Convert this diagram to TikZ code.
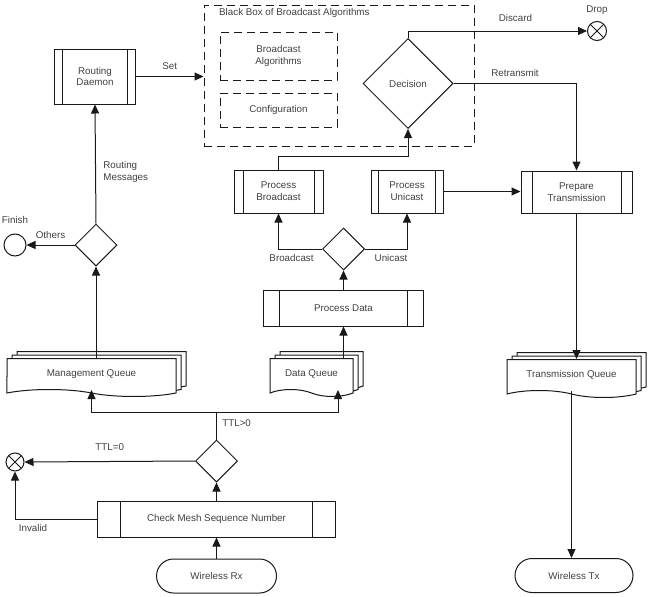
\documentclass[tikz,border=0pt]{standalone}
\usepackage{fontspec}
\setmainfont{Liberation Sans}
\usetikzlibrary{arrows.meta, shapes.geometric, shapes.symbols, shadows}

\begin{document}
\begin{tikzpicture}[x=1pt, y=-1pt,
    every node/.style={font=\fontsize{9.8}{11.8}\selectfont, text=black!75},
    line/.style={draw=black!90, line width=1pt},
    arrow/.style={line, -{Triangle[length=9pt, width=8pt]}},
    procbox/.style={line, fill=white, align=center, inner sep=0pt,
      path picture={\draw[line] ([xshift=#1]path picture bounding box.north west) -- ([xshift=#1]path picture bounding box.south west)
        ([xshift=-#1]path picture bounding box.north east) -- ([xshift=-#1]path picture bounding box.south east);}},
    procbox/.default=9pt,
    dashbox/.style={draw=black!90, line width=1pt, dash pattern=on 8pt off 5pt, align=center, inner sep=0pt},
    decide/.style={line, diamond, aspect=1, inner sep=0pt, minimum width=#1, minimum height=#1},
    decide/.default=42pt,
    sink/.style={line, circle, inner sep=0pt, minimum size=19pt,
      path picture={\draw[line] (path picture bounding box.north west) -- (path picture bounding box.south east)
        (path picture bounding box.north east) -- (path picture bounding box.south west);}},
    terminal/.style={line, rounded corners=17pt, minimum height=34pt, inner sep=0pt},
    queue/.style={line, fill=white, tape, tape bend top=none, tape bend bottom=out and in,
      tape bend height=7pt, minimum height=38pt, inner sep=0pt,
      copy shadow={draw=black!90, fill=white, shadow xshift=10pt, shadow yshift=7pt},
      copy shadow={draw=black!90, fill=white, shadow xshift=5pt, shadow yshift=3.5pt}}
  ]
  \useasboundingbox (0,0) rectangle (649,597);

  % receive side
  \node[terminal, minimum width=120pt] (rx) at (216.5,576) {Wireless Rx};
  \node[procbox=23pt, minimum width=238pt, minimum height=36pt] (check) at (216.5,519) {Check Mesh Sequence Number};
  \node[decide] (ttldec) at (216.5,461) {};
  \node[sink, minimum size=18pt] (invalid) at (15,462) {};
  \coordinate (ttlsplit) at (216.5,412);

  % queues
  \node[queue, minimum width=169pt, anchor=north] (mgmtq) at (91.5,358) {Management Queue};
  \node[queue, minimum width=83pt, anchor=north] (dataq) at (311.5,358) {Data Queue};
  \node[queue, minimum width=129pt, anchor=north] (txq) at (571.5,359) {Transmission Queue};

  % management path
  \node[decide] (routedec) at (96,245) {};
  \node[line, circle, minimum size=22pt, label={[label distance=6pt]above:Finish}] (finish) at (15,245) {};
  \node[procbox=8pt, minimum width=81pt, minimum height=55pt] (daemon) at (95,76.5) {Routing\\Daemon};

  % black box
  \node[dashbox, minimum width=270pt, minimum height=141pt] (blackbox) at (339,75.5) {};
  \node[anchor=west, inner sep=0pt] (bbtitle) at (219,13) {Black Box of Broadcast Algorithms};
  \node[dashbox, minimum width=117pt, minimum height=48pt] (algos) at (278.5,56) {Broadcast\\Algorithms};
  \node[dashbox, minimum width=117pt, minimum height=34pt] (config) at (278.5,110) {Configuration};
  \node[decide=90pt] (decision) at (408,83.5) {Decision};
  \node[sink, label={[label distance=3pt]above:Drop}] (drop) at (597,31) {};

  % data path
  \node[procbox=16pt, minimum width=160pt, minimum height=36pt] (pdata) at (343.5,308) {Process Data};
  \node[decide] (castdec) at (343.5,249) {};
  \node[procbox=9pt, minimum width=89pt, minimum height=43pt] (pbcast) at (278.5,191.5) {Process\\Broadcast};
  \node[procbox=7.5pt, minimum width=72pt, minimum height=43pt] (pucast) at (407,191.5) {Process\\Unicast};
  \node[procbox=11pt, minimum width=111pt, minimum height=42pt] (prepare) at (576.5,192) {Prepare\\Transmission};
  \node[terminal, minimum width=118pt] (tx) at (574,575.5) {Wireless Tx};

  % connectors
  \draw[arrow] (rx.north) -- (check.south);
  \draw[arrow] (check.north) -- (ttldec.south);
  \draw[arrow] (ttldec.west) -- node[above=7pt] {TTL=0} (invalid.east);
  \draw[arrow] (check.west) -| node[pos=0.39, below=2pt] {Invalid} (invalid.south);
  \draw[line] (ttldec.north) -- node[right=2pt, pos=0.6] {TTL>0} (ttlsplit);
  \draw[arrow] (ttlsplit) -| (mgmtq.south);
  \draw[arrow] (ttlsplit) -| ([xshift=26.5pt]dataq.south);
  \draw[arrow] (mgmtq.north -| routedec.south) -- (routedec.south);
  \draw[arrow] (routedec.north) -- node[right=4pt, pos=0.43, align=left] {Routing\\Messages} (daemon.south);
  \draw[arrow] (routedec.west) -- node[above=3pt] {Others} (finish.east);
  \draw[arrow] (daemon.east) -- node[above=3pt] {Set} (daemon.east -| blackbox.west);
  \draw[arrow] (dataq.north -| pdata.south) -- (pdata.south);
  \draw[arrow] (pdata.north) -- (castdec.south);
  \draw[arrow] (castdec.west) -| node[pos=0.35, below=2pt] {Broadcast} (pbcast.south);
  \draw[arrow] (castdec.east) -| node[pos=0.31, below=2pt] {Unicast} (pucast.south);
  \draw[arrow] (pbcast.north) -- ++(0,-13) -| (decision.south);
  \draw[arrow] (pucast.east) -- (pucast.east -| prepare.west);
  \draw[arrow] (decision.north) |- node[pos=0.8, above=6pt] {Discard} (drop.west);
  \draw[arrow] (decision.east) -| node[pos=0.25, above=3pt] {Retransmit} (prepare.north);
  \draw[arrow] (prepare.south) -- (prepare.south |- txq.north);
  \draw[arrow] (txq.south) -- (txq.south |- tx.north);
\end{tikzpicture}
\end{document}
